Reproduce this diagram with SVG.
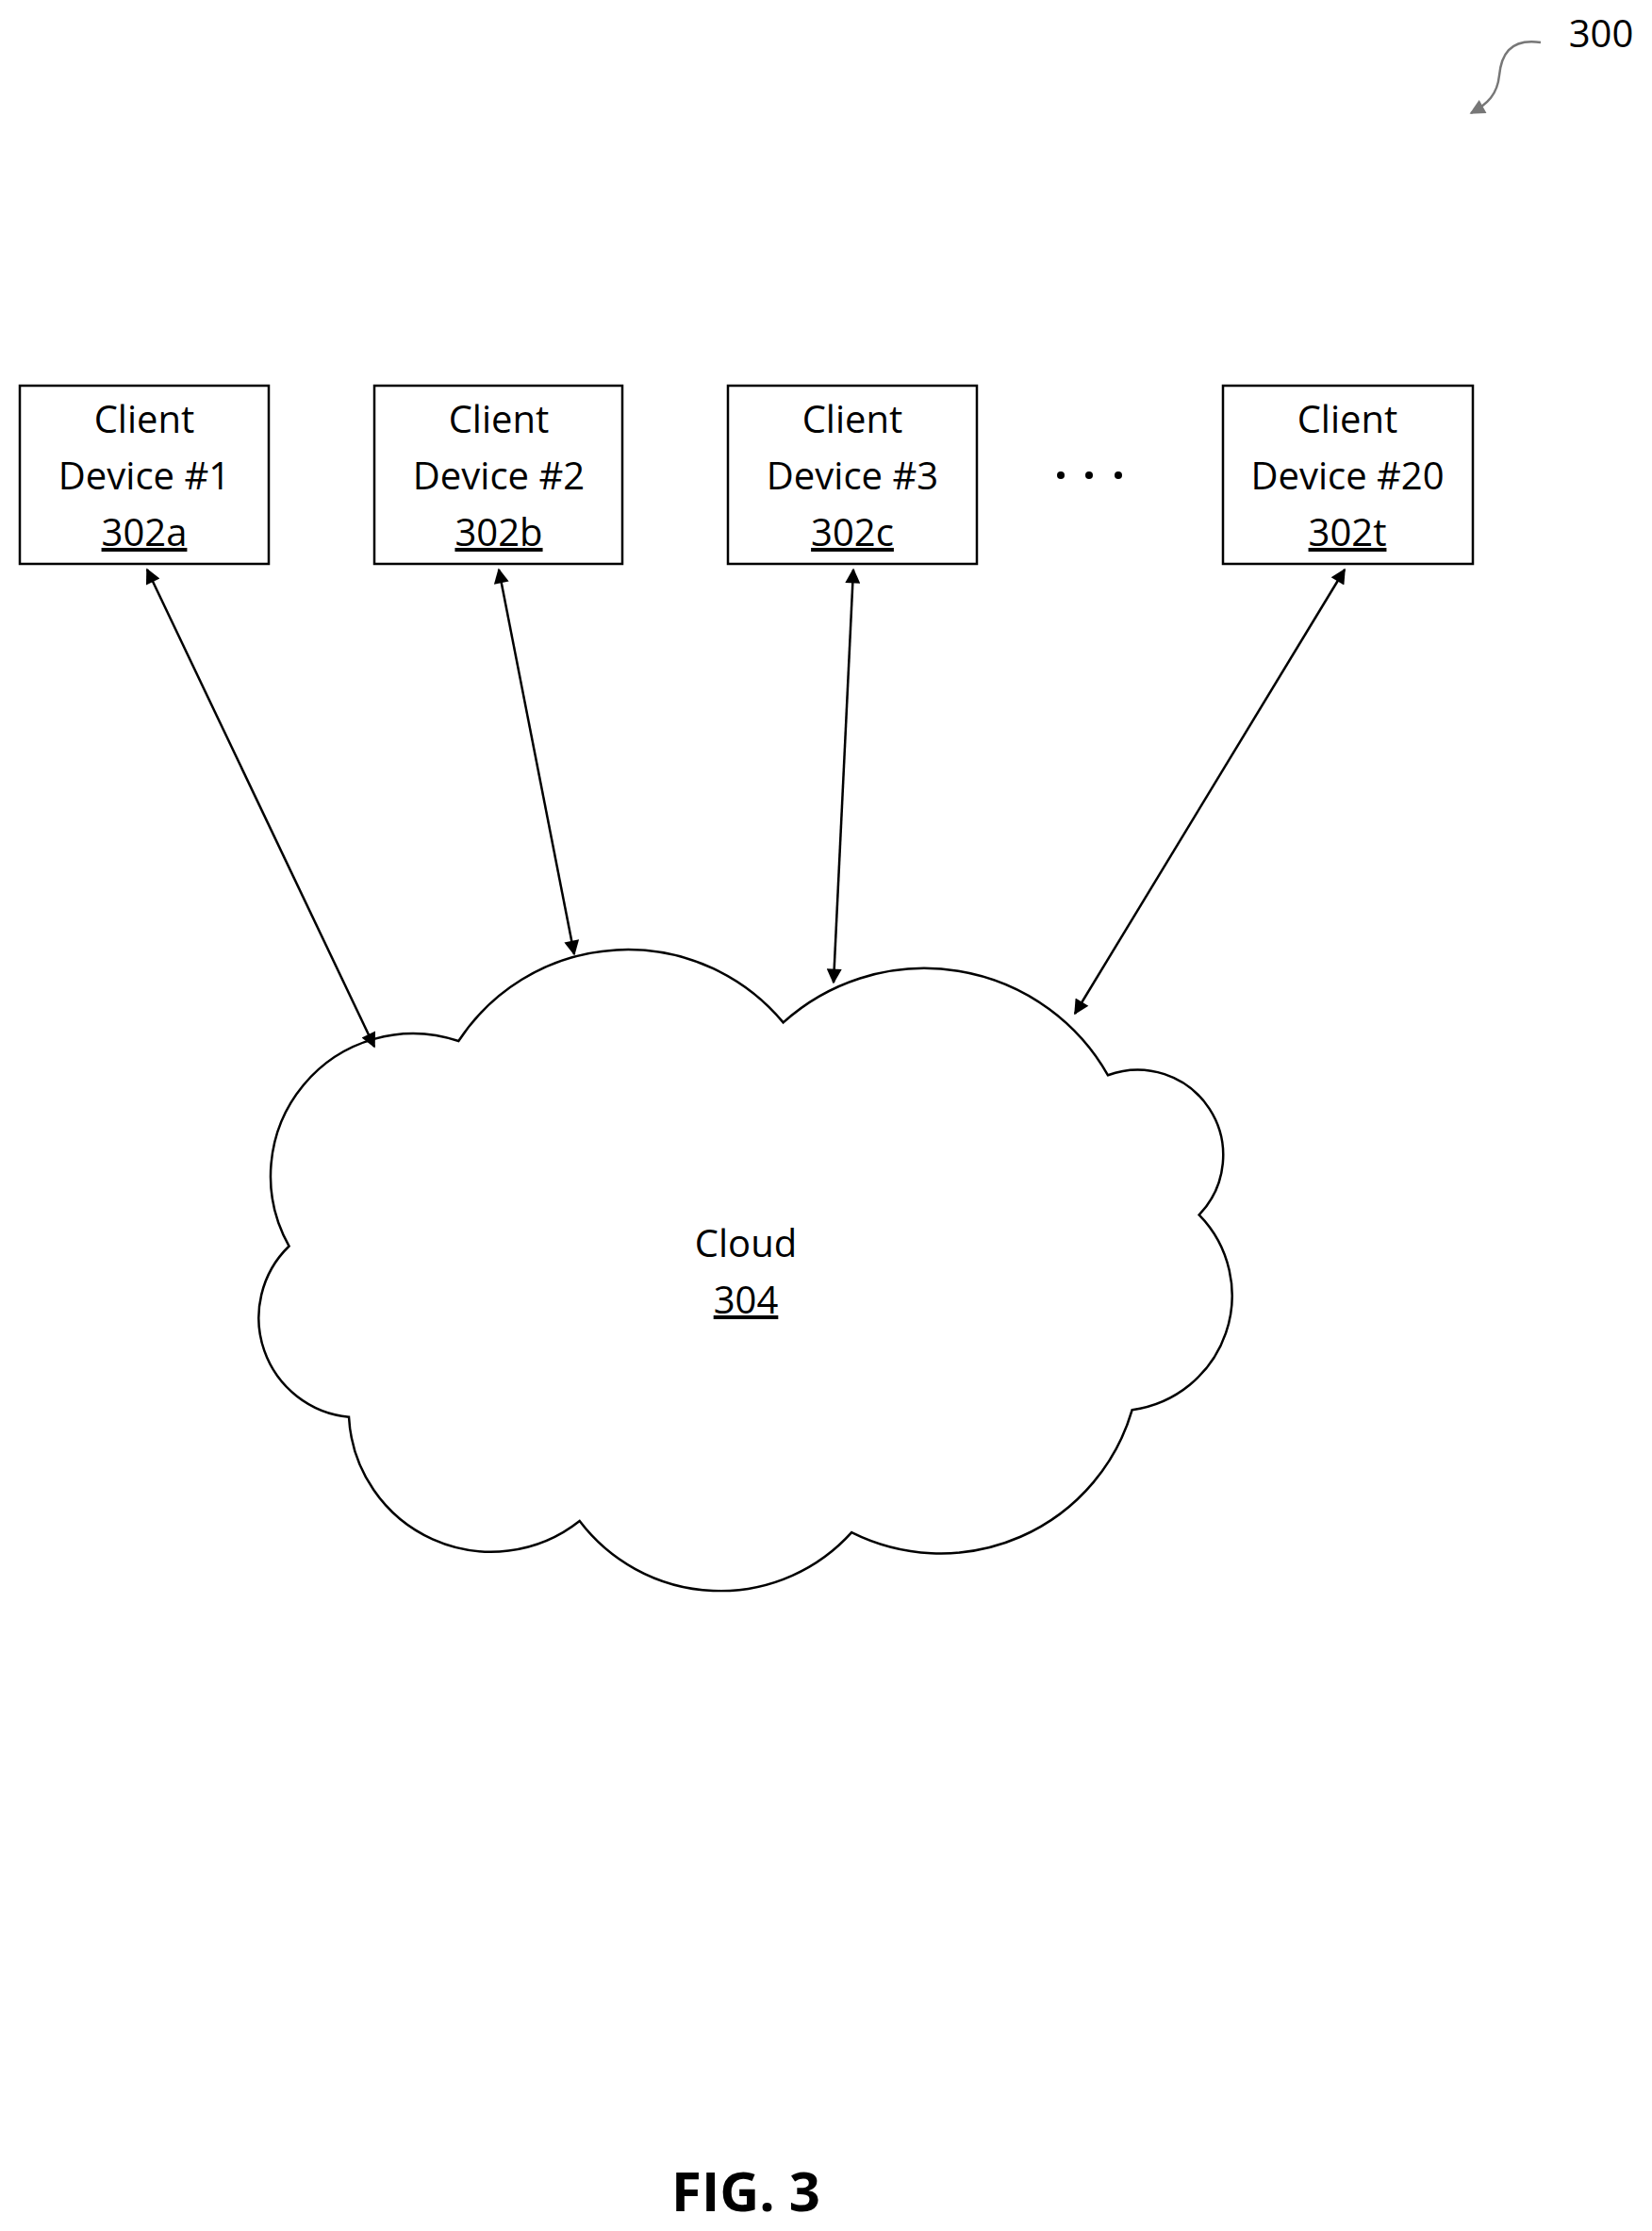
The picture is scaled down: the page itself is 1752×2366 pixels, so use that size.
<svg xmlns="http://www.w3.org/2000/svg" width="1752" height="2366" viewBox="0 0 1752 2366">
<style>
text{font-family:"Open Sans","Liberation Sans",sans-serif;font-size:40px;fill:#000;text-anchor:middle}
.u{text-decoration:underline}
.box{fill:#fff;stroke:#000;stroke-width:2.5}
.conn{stroke:#000;stroke-width:2.5;fill:none;marker-start:url(#ah);marker-end:url(#ah)}
</style>
<defs>
<marker id="ah" viewBox="0 0 10 10" refX="9" refY="5" markerWidth="20" markerHeight="16" markerUnits="userSpaceOnUse" orient="auto-start-reverse">
<path d="M0,0L10,5L0,10z" fill="#000"/></marker>
<marker id="ag" viewBox="0 0 10 10" refX="9" refY="5" markerWidth="20" markerHeight="16" markerUnits="userSpaceOnUse" orient="auto">
<path d="M0,0L10,5L0,10z" fill="#777"/></marker>
</defs>
<g id="label300">
<text x="1698" y="50" style="text-anchor:middle">300</text>
<path d="M1634,45 C1600,40 1592,60 1590,80 C1588,100 1578,110 1560,120" stroke="#777" stroke-width="2.5" fill="none" marker-end="url(#ag)"/>
</g>
<g id="dev1"><rect class="box" x="21" y="409" width="264" height="189"/><text x="153" y="459">Client</text><text x="153" y="519">Device #1</text><text x="153" y="579" class="u">302a</text></g>
<g id="dev2"><rect class="box" x="397" y="409" width="263" height="189"/><text x="529" y="459">Client</text><text x="529" y="519">Device #2</text><text x="529" y="579" class="u">302b</text></g>
<g id="dev3"><rect class="box" x="772" y="409" width="264" height="189"/><text x="904" y="459">Client</text><text x="904" y="519">Device #3</text><text x="904" y="579" class="u">302c</text></g>
<g id="dev20"><rect class="box" x="1297" y="409" width="265" height="189"/><text x="1429" y="459">Client</text><text x="1429" y="519">Device #20</text><text x="1429" y="579" class="u">302t</text></g>
<g id="dots"><circle cx="1125" cy="504" r="4"/><circle cx="1155" cy="504" r="4"/><circle cx="1186" cy="504" r="4"/></g>
<g id="cloud">
<path transform="scale(1.5103)" stroke="#000" stroke-width="1.65" fill="#fff" d="M322,731 A142,142 0 0 1 550,718 A148,148 0 0 1 778,755 A60,60 0 0 1 842,853 A81,81 0 0 1 795,990 A140,140 0 0 1 598,1076 A124,124 0 0 1 407,1068 A100,100 0 0 1 245,995 A70,70 0 0 1 203,875 A100,100 0 0 1 322,731 Z"/>
<text x="791" y="1333">Cloud</text><text x="791" y="1393" class="u">304</text>
</g>
<g id="connectors">
<line class="conn" x1="156" y1="604" x2="397" y2="1110"/>
<line class="conn" x1="529" y1="604" x2="609" y2="1012"/>
<line class="conn" x1="905" y1="604" x2="884" y2="1042"/>
<line class="conn" x1="1426" y1="604" x2="1140" y2="1075"/>
</g>
<text x="791" y="2345" style="font-size:58px;font-weight:bold">FIG. 3</text>
</svg>
